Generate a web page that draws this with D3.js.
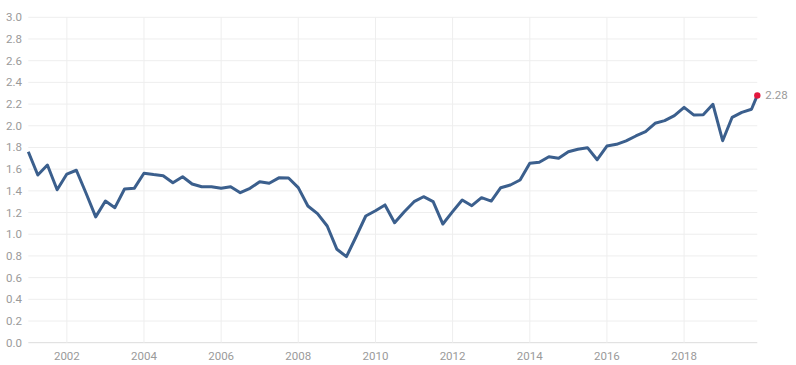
<!DOCTYPE html>
<html>
<head>
<meta charset="UTF-8">
<script src="https://d3js.org/d3.v7.min.js"></script>
<style>
  body { margin: 0; background: #fff; }
  svg text { font-family: Roboto, "Open Sans", sans-serif; fill: #9a9a9a; font-size: 11.5px; }
</style>
</head>
<body>
<svg width="796" height="365"></svg>
<script>
// quarterly observations 2001 Q1 .. 2019 Q4, plus a final latest reading
const values = [
  1.76, 1.546, 1.638, 1.41, 1.555, 1.59, 1.38, 1.16,
  1.306, 1.245, 1.417, 1.423, 1.562, 1.55, 1.54, 1.475,
  1.53, 1.463, 1.438, 1.438, 1.423, 1.438, 1.383, 1.423,
  1.484, 1.47, 1.52, 1.518, 1.43, 1.26, 1.19, 1.076,
  0.861, 0.793, 0.977, 1.168, 1.217, 1.27, 1.106, 1.208,
  1.30, 1.346, 1.30, 1.094, 1.208, 1.316, 1.263, 1.337,
  1.306, 1.429, 1.454, 1.50, 1.654, 1.663, 1.715, 1.70,
  1.761, 1.783, 1.798, 1.687, 1.813, 1.829, 1.86, 1.906,
  1.946, 2.023, 2.047, 2.093, 2.17, 2.10, 2.102, 2.198,
  1.862, 2.078, 2.124, 2.152
];
const lastValue = 2.28;
const lastDate = new Date(2019, 10, 25);
const yTicks = d3.range(0, 3.01, 0.2);
const xTickYears = [2002, 2004, 2006, 2008, 2010, 2012, 2014, 2016, 2018];

const data = values.map((v, i) => ({ date: new Date(2001 + Math.floor(i / 4), (i % 4) * 3, 1), value: v }));
data.push({ date: lastDate, value: lastValue });

const plot = { left: 28.3, right: 757.3, top: 17.3, bottom: 342.7 };
const svg = d3.select("svg");

const x = d3.scaleTime()
  .domain([new Date(2001, 0, 1), lastDate])
  .range([plot.left, plot.right]);
const y = d3.scaleLinear().domain([0, 3]).range([plot.bottom, plot.top]);

// horizontal grid
svg.append("g").selectAll("line")
  .data(yTicks)
  .enter().append("line")
  .attr("x1", plot.left).attr("x2", plot.right)
  .attr("y1", d => y(d)).attr("y2", d => y(d))
  .attr("stroke", (d, i) => i === 0 ? "#dcdcdc" : "#eeeeee")
  .attr("stroke-width", 1);

// vertical grid
svg.append("g").selectAll("line")
  .data(xTickYears)
  .enter().append("line")
  .attr("x1", d => x(new Date(d, 0, 1))).attr("x2", d => x(new Date(d, 0, 1)))
  .attr("y1", plot.top).attr("y2", plot.bottom)
  .attr("stroke", "#eeeeee")
  .attr("stroke-width", 1);

// y labels
svg.append("g").selectAll("text")
  .data(yTicks)
  .enter().append("text")
  .attr("x", 22)
  .attr("y", d => y(d) + 4)
  .attr("text-anchor", "end")
  .text(d => d.toFixed(1));

// x labels
svg.append("g").selectAll("text")
  .data(xTickYears)
  .enter().append("text")
  .attr("x", d => x(new Date(d, 0, 1)))
  .attr("y", 360)
  .attr("text-anchor", "middle")
  .text(d => d);

const line = d3.line()
  .x(d => x(d.date))
  .y(d => y(d.value));

svg.append("path")
  .datum(data)
  .attr("fill", "none")
  .attr("stroke", "#3b5f8d")
  .attr("stroke-width", 3)
  .attr("stroke-linejoin", "round")
  .attr("d", line);

const last = data[data.length - 1];
svg.append("circle")
  .attr("cx", x(last.date))
  .attr("cy", y(last.value))
  .attr("r", 3.2)
  .attr("fill", "#e3173e");

svg.append("text")
  .attr("x", x(last.date) + 8)
  .attr("y", y(last.value) + 4)
  .text(last.value.toFixed(2));
</script>
</body>
</html>
